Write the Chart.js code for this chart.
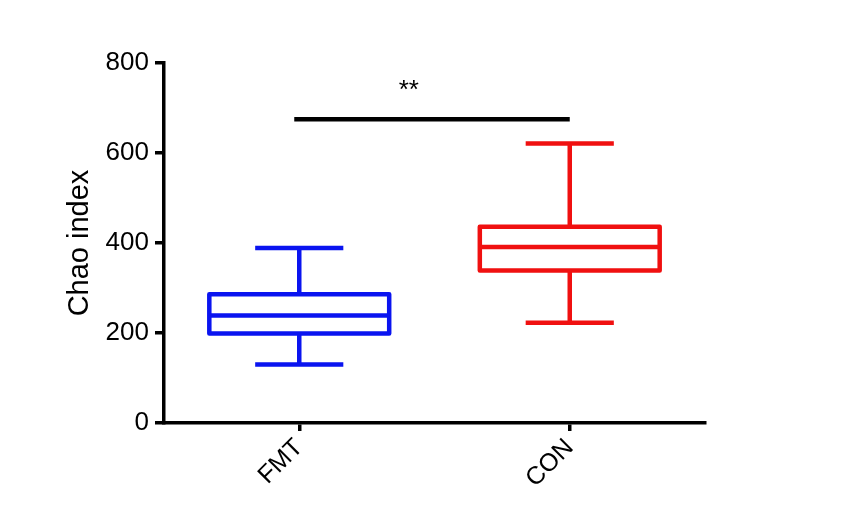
<!DOCTYPE html>
<html>
<head>
<meta charset="utf-8">
<script src="https://cdn.jsdelivr.net/npm/chart.js@4"></script>
<style>
  html, body { margin: 0; padding: 0; background: #fff; }
  #wrap { width: 855px; height: 514px; position: relative; }
</style>
</head>
<body>
<div id="wrap"><canvas id="boxChart"></canvas></div>
<script>
// values
const groups = ["FMT", "CON"];
const whiskerLow = [130, 223];
const quart1 = [199, 339];
const medians = [239, 391];
const quart3 = [286, 436];
const whiskerHigh = [389, 621];
const boxColors = ["#0a14f0", "#f01010"];

// significance marker between the two groups
const sigLevel = 675;
const sigLabel = "**";
const sigLabelLevel = 722;

const boxWhiskers = {
	id: "boxWhiskers",
	afterDatasetsDraw(chart) {
		const ctx = chart.ctx;
		const x = chart.scales.x;
		const y = chart.scales.y;
		const meta = chart.getDatasetMeta(0);
		ctx.save();
		ctx.lineWidth = 4.5;
		for (let i = 0; i < groups.length; i++) {
			const bar = meta.data[i];
			const cx = x.getPixelForValue(i);
			const half = bar.width / 2;
			const cap = bar.width * 0.245;
			ctx.strokeStyle = boxColors[i];
			// box outline, stroke centred on the quartiles
			ctx.lineJoin = "round";
			ctx.beginPath();
			ctx.rect(cx - half, bar.y, bar.width, bar.base - bar.y);
			ctx.stroke();
			ctx.lineJoin = "miter";
			ctx.beginPath();
			// median
			ctx.moveTo(cx - half, y.getPixelForValue(medians[i]));
			ctx.lineTo(cx + half, y.getPixelForValue(medians[i]));
			// whiskers
			ctx.moveTo(cx, y.getPixelForValue(quart3[i]));
			ctx.lineTo(cx, y.getPixelForValue(whiskerHigh[i]));
			ctx.moveTo(cx, y.getPixelForValue(quart1[i]));
			ctx.lineTo(cx, y.getPixelForValue(whiskerLow[i]));
			// caps
			ctx.moveTo(cx - cap, y.getPixelForValue(whiskerHigh[i]));
			ctx.lineTo(cx + cap, y.getPixelForValue(whiskerHigh[i]));
			ctx.moveTo(cx - cap, y.getPixelForValue(whiskerLow[i]));
			ctx.lineTo(cx + cap, y.getPixelForValue(whiskerLow[i]));
			ctx.stroke();
		}
		// significance bar
		ctx.strokeStyle = "#000";
		ctx.lineWidth = 4.5;
		ctx.beginPath();
		ctx.moveTo(x.getPixelForValue(0) - 5, y.getPixelForValue(sigLevel));
		ctx.lineTo(x.getPixelForValue(1), y.getPixelForValue(sigLevel));
		ctx.stroke();
		ctx.fillStyle = "#000";
		ctx.font = "26px 'Liberation Sans', Arial, sans-serif";
		ctx.textAlign = "center";
		ctx.textBaseline = "alphabetic";
		ctx.fillText(sigLabel, x.getPixelForValue(0.405), y.getPixelForValue(sigLabelLevel));
		ctx.restore();
	}
};

Chart.defaults.font.family = "'Liberation Sans', Arial, sans-serif";
Chart.defaults.color = "#000";

new Chart(document.getElementById("boxChart"), {
	type: "bar",
	data: {
		labels: groups,
		datasets: [
			{
				data: quart1.map((q, i) => [q, quart3[i]]),
				backgroundColor: "rgba(0,0,0,0)",
				borderWidth: 0,
				barPercentage: 0.665,
				categoryPercentage: 1
			}
		]
	},
	options: {
		responsive: true,
		maintainAspectRatio: false,
		animation: false,
		layout: { padding: { left: 63, right: 150, top: 63, bottom: 0 } },
		plugins: { legend: { display: false }, tooltip: { enabled: false } },
		scales: {
			x: {
				afterFit(scale) { scale.height = 91; },
				grid: { offset: false, drawOnChartArea: false, drawTicks: true, tickLength: 8, lineWidth: 3.5, color: "#000" },
				border: { display: true, width: 3.5, color: "#000" },
				ticks: { font: { size: 25 }, minRotation: 45, maxRotation: 45, padding: 2 }
			},
			y: {
				min: 0,
				max: 800,
				afterFit(scale) { scale.width = 101; },
				grid: { drawOnChartArea: false, drawTicks: true, tickLength: 9, lineWidth: 3.5, color: "#000" },
				border: { display: true, width: 3.5, color: "#000" },
				ticks: { stepSize: 200, font: { size: 26 }, padding: 6 },
				title: { display: true, text: "Chao index", font: { size: 29 }, padding: 0 }
			}
		}
	},
	plugins: [boxWhiskers]
});
</script>
</body>
</html>
